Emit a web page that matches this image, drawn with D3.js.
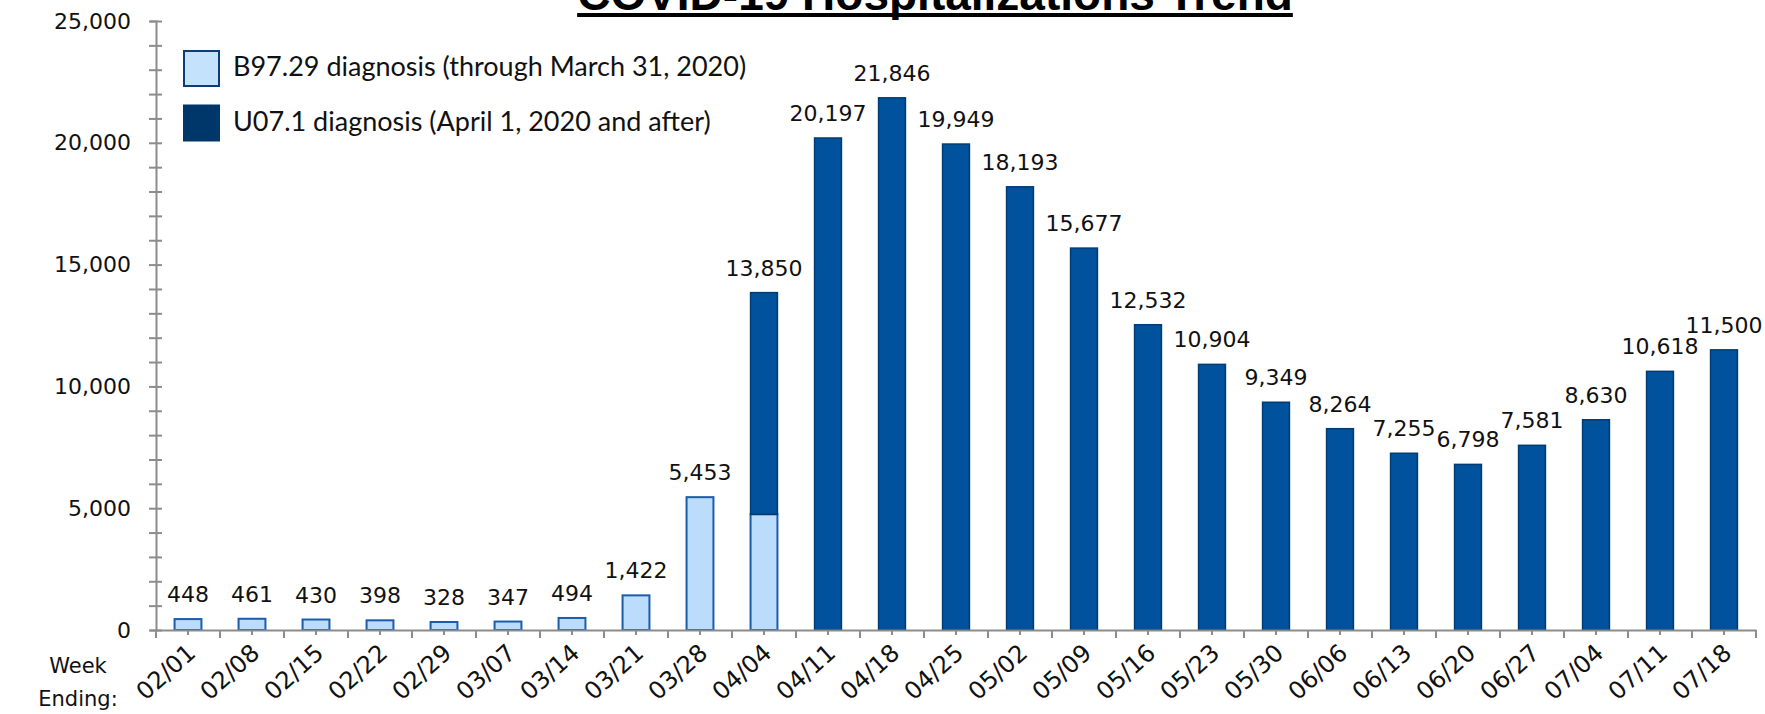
<!DOCTYPE html>
<html>
<head>
  <meta charset="utf-8">
  <script src="https://d3js.org/d3.v7.min.js"></script>
  <style>
    body { margin: 0; background: #fff; }
  </style>
</head>
<body>
<script>
// week ending dates
var weeks = ["02/01","02/08","02/15","02/22","02/29","03/07","03/14","03/21","03/28",
             "04/04","04/11","04/18","04/25","05/02","05/09","05/16","05/23","05/30",
             "06/06","06/13","06/20","06/27","07/04","07/11","07/18"];
// B97.29 diagnosis (through March 31, 2020)
var b9729 = [448,461,430,398,328,347,494,1422,5453,4750,0,0,0,0,0,0,0,0,0,0,0,0,0,0,0];
// U07.1 diagnosis (April 1, 2020 and after)
var u071 = [0,0,0,0,0,0,0,0,0,9100,20197,21846,19949,18193,15677,12532,10904,9349,
            8264,7255,6798,7581,8630,10618,11500];
var yTicks = [0,5000,10000,15000,20000,25000];

var W = 1765, H = 714;
var svg = d3.select("body").append("svg").attr("width", W).attr("height", H);

var x = d3.scaleBand().domain(weeks).range([156, 1756]);
var y = d3.scaleLinear().domain([0, 25000]).range([630, 21]);
var bw = x.step() * 0.42;
var fmt = d3.format(",");
var axisColor = "#8c8c8c";

// title
var title = svg.append("text")
  .attr("x", 935).attr("y", 10)
  .attr("text-anchor", "middle")
  .style("font-family", "'Liberation Sans', Arial, sans-serif")
  .style("font-weight", "bold")
  .style("font-size", "46px")
  .text("COVID-19 Hospitalizations Trend");
var tl = title.node().getComputedTextLength();
svg.append("rect")
  .attr("x", 935 - tl / 2).attr("y", 13)
  .attr("width", tl).attr("height", 4)
  .attr("fill", "#000");

// bars: light part (bottom) then dark part stacked on top
var rows = weeks.map(function (w, i) {
  return { week: w, b: b9729[i], u: u071[i], total: b9729[i] + u071[i] };
});

svg.selectAll("rect.b")
  .data(rows.filter(function (d) { return d.b > 0; }))
  .enter().append("rect")
  .attr("class", "b")
  .attr("x", function (d) { return x(d.week) + (x.step() - bw) / 2; })
  .attr("y", function (d) { return y(d.b); })
  .attr("width", bw)
  .attr("height", function (d) { return y(0) - y(d.b); })
  .attr("fill", "#bcdcfb")
  .attr("stroke", "#1c5ca8")
  .attr("stroke-width", 2);

svg.selectAll("rect.u")
  .data(rows.filter(function (d) { return d.u > 0; }))
  .enter().append("rect")
  .attr("class", "u")
  .attr("x", function (d) { return x(d.week) + (x.step() - bw) / 2; })
  .attr("y", function (d) { return y(d.b + d.u); })
  .attr("width", bw)
  .attr("height", function (d) { return y(d.b) - y(d.b + d.u); })
  .attr("fill", "#00529c")
  .attr("stroke", "#003b73")
  .attr("stroke-width", 1.5);

// total labels
svg.selectAll("text.val")
  .data(rows)
  .enter().append("text")
  .attr("class", "val")
  .attr("x", function (d) { return x(d.week) + x.step() / 2; })
  .attr("y", function (d) { return y(d.total) - 17; })
  .attr("text-anchor", "middle")
  .style("font-family", "'DejaVu Sans', sans-serif")
  .style("font-size", "22px")
  .attr("fill", "#111")
  .text(function (d) { return fmt(d.total); });

// y axis
var yAxis = svg.append("g")
  .attr("transform", "translate(156,0)")
  .call(d3.axisLeft(y).tickValues(d3.range(0, 25001, 1000))
    .tickSize(6)
    .tickFormat(function (v) { return yTicks.indexOf(v) >= 0 ? fmt(v) : ""; }));
yAxis.select(".domain").attr("stroke", axisColor).attr("stroke-width", 2);
yAxis.selectAll(".tick line").attr("stroke", axisColor).attr("stroke-width", 2)
  .attr("x1", 6).attr("x2", -7);
yAxis.selectAll(".tick text")
  .attr("x", -25)
  .attr("fill", "#111")
  .style("font-family", "'DejaVu Sans', sans-serif")
  .style("font-size", "22px");

// x axis
var xAxis = svg.append("g")
  .attr("transform", "translate(0,630)")
  .call(d3.axisBottom(x).tickSize(5).tickSizeOuter(0));
xAxis.select(".domain").attr("stroke", axisColor).attr("stroke-width", 2);
xAxis.selectAll(".tick line").attr("stroke", axisColor).attr("stroke-width", 2);
xAxis.selectAll(".tick text")
  .attr("text-anchor", "end")
  .attr("fill", "#111")
  .style("font-family", "'DejaVu Sans', sans-serif")
  .style("font-size", "24px")
  .attr("transform", "translate(9,25) rotate(-42)")
  .attr("x", 0).attr("y", 0).attr("dy", 0);
// longer ticks on category boundaries
xAxis.selectAll("line.bound")
  .data(weeks.concat([null]))
  .enter().append("line")
  .attr("class", "bound")
  .attr("x1", function (d) { return d === null ? x.range()[1] : x(d); })
  .attr("x2", function (d) { return d === null ? x.range()[1] : x(d); })
  .attr("y1", 0).attr("y2", 8)
  .attr("stroke", axisColor).attr("stroke-width", 2);

// "Week Ending:" label
svg.selectAll("text.we")
  .data(["Week", "Ending:"])
  .enter().append("text")
  .attr("class", "we")
  .attr("x", 78)
  .attr("y", function (d, i) { return 673 + i * 33; })
  .attr("text-anchor", "middle")
  .style("font-family", "'DejaVu Sans', sans-serif")
  .style("font-size", "21px")
  .attr("fill", "#111")
  .text(function (d) { return d; });

// legend
var legend = [
  { label: "B97.29 diagnosis (through March 31, 2020)", fill: "#c5e2fd", stroke: "#0d3d78" },
  { label: "U07.1 diagnosis (April 1, 2020 and after)", fill: "#00376b", stroke: "#00376b" }
];
var lg = svg.selectAll("g.leg")
  .data(legend)
  .enter().append("g")
  .attr("class", "leg")
  .attr("transform", function (d, i) { return "translate(183," + (50 + i * 54.5) + ")"; });
lg.append("rect")
  .attr("x", 1).attr("y", 1)
  .attr("width", 35).attr("height", 35)
  .attr("fill", function (d) { return d.fill; })
  .attr("stroke", function (d) { return d.stroke; })
  .attr("stroke-width", 2);
lg.append("text")
  .attr("x", 50).attr("y", 26)
  .style("font-family", "Lato, 'Open Sans', sans-serif")
  .style("font-size", "27px")
  .attr("fill", "#111")
  .text(function (d) { return d.label; });
</script>
</body>
</html>
